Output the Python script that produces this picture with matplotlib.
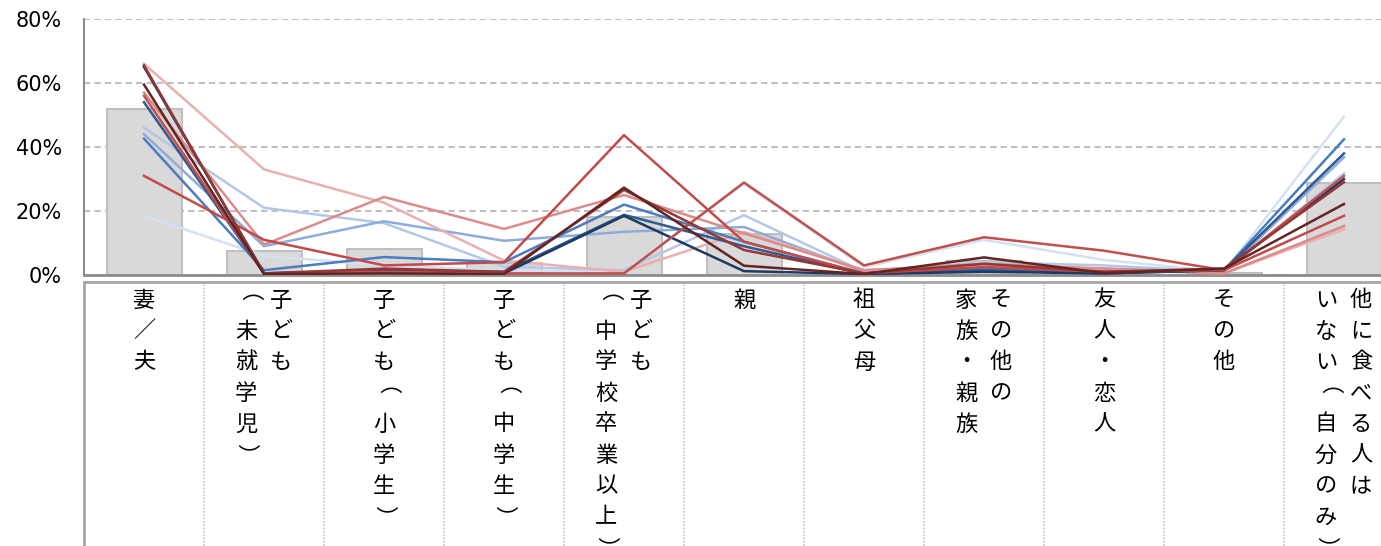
import matplotlib
matplotlib.use("Agg")
import matplotlib.pyplot as plt
import matplotlib.transforms as mtransforms
from matplotlib.lines import Line2D
import numpy as np

# categories and the way each label wraps into vertical columns (right column first)
categories = ['妻／夫', '子ども（未就学児）', '子ども（小学生）', '子ども（中学生）',
              '子ども（中学校卒業以上）', '親', '祖父母', 'その他の家族・親族',
              '友人・恋人', 'その他', '他に食べる人はいない（自分のみ）']
label_cols = [['妻／夫'], ['子ども', '（未就学児）'], ['子ども（小学生）'], ['子ども（中学生）'],
              ['子ども', '（中学校卒業以上）'], ['親'], ['祖父母'], ['その他の', '家族・親族'],
              ['友人・恋人'], ['その他'], ['他に食べる人は', 'いない（自分のみ）']]

# overall (gray bars), %
total = [52.0, 7.6, 8.2, 3.8, 18.2, 12.7, 0.3, 4.5, 0.6, 0.7, 28.8]

# blue group, light -> dark
b1 = [18.5, 6.0, 3.0, 1.5, 1.0, 28.5, 2.5, 11.0, 4.7, 1.0, 49.5]
b2 = [46.0, 21.0, 16.2, 2.6, 1.5, 18.7, 1.0, 4.0, 3.0, 1.0, 31.8]
b3 = [44.0, 9.0, 16.8, 10.7, 13.5, 15.0, 1.0, 3.0, 2.0, 1.0, 36.8]
b4 = [42.6, 1.5, 5.6, 4.0, 22.0, 10.4, 0.5, 2.0, 1.0, 1.5, 42.4]
b5 = [54.0, 0.5, 1.5, 1.0, 18.8, 9.0, 0.3, 1.5, 0.5, 1.5, 38.0]
b6 = [65.0, 0.5, 1.0, 0.5, 18.5, 1.2, 0.3, 1.0, 0.5, 1.5, 30.0]
# red group, light -> dark
r1 = [66.0, 33.0, 22.6, 4.5, 1.0, 13.5, 1.5, 3.0, 1.5, 0.5, 14.3]
r2 = [57.0, 9.5, 24.4, 14.4, 25.0, 13.0, 1.5, 3.5, 2.0, 0.5, 15.3]
r3 = [56.0, 0.5, 1.0, 0.5, 0.5, 28.9, 3.0, 11.8, 7.6, 1.5, 31.0]
r4 = [31.0, 11.0, 3.0, 4.0, 43.7, 10.4, 0.5, 2.5, 1.0, 1.5, 18.5]
r5 = [65.5, 0.5, 2.0, 1.0, 26.6, 7.8, 0.5, 3.5, 1.0, 2.0, 29.0]
r6 = [59.5, 0.3, 0.5, 0.3, 27.3, 2.9, 0.3, 5.5, 0.6, 2.0, 22.2]

series = [(b1, '#d5e0f1'), (b2, '#b4c8e6'), (b3, '#8eacd9'), (r1, '#e8b0af'),
          (r2, '#d98c8a'), (b4, '#4a7cc0'), (b5, '#2f5a92'), (b6, '#1d3a60'),
          (r3, '#c0504d'), (r4, '#c24a47'), (r5, '#953735'), (r6, '#632523')]

W, H = 1381, 546
fig = plt.figure(figsize=(W / 100, H / 100), dpi=100)
ax = fig.add_axes([84 / W, 1 - 275 / H, 11 * 120 / W, 256 / H])

x = np.arange(len(categories))
ax.bar(x, total, width=0.625, color='#d9d9d9', edgecolor='#bfbfbf', linewidth=1.5, zorder=2)
for vals, col in series:
    ax.plot(x, vals, color=col, lw=1.8, zorder=3)

ax.set_xlim(-0.5, len(categories) - 0.5)
ax.set_ylim(0, 80)
ax.set_yticks([0, 20, 40, 60, 80])
ax.set_yticklabels(['0%', '20%', '40%', '60%', '80%'], fontsize=15, family='DejaVu Sans')
ax.set_xticks([])
ax.tick_params(axis='y', length=0, pad=16)
ax.yaxis.grid(True, linestyle=(0, (3, 2)), color='#bfbfbf', lw=1.5)
ax.set_axisbelow(True)
for s in ['top', 'right']:
    ax.spines[s].set_visible(False)
ax.spines['left'].set_color('#8c8c8c')
ax.spines['left'].set_linewidth(1.5)
ax.spines['bottom'].set_color('#8c8c8c')
ax.spines['bottom'].set_linewidth(2)

# label table below the axis
tr = mtransforms.blended_transform_factory(ax.transData, fig.transFigure)
y_top = 1 - 282 / H
fig.add_artist(Line2D([84 / W, 1], [y_top, y_top], color='#a6a6a6', lw=2))
fig.add_artist(Line2D([84 / W, 84 / W], [0, y_top], color='#a6a6a6', lw=2))
for k in range(1, len(categories)):
    ax.add_artist(Line2D([k - 0.5, k - 0.5], [0, y_top], transform=tr, color='#c8c8c8',
                         lw=1.2, linestyle=(0, (1, 1)), clip_on=False))

pitch = 31 / H
y0 = 1 - 300 / H
# vertical-writing parentheses are the normal ones turned a quarter, nudged back onto the column
paren_shift = {'（': (-11, -4), '）': (0, 0)}
for i, cols in enumerate(label_cols):
    if len(cols) == 1:
        offs = [0.0]
    else:
        offs = [0.142, -0.15]
    for col, dx in zip(cols, offs):
        for j, ch in enumerate(col):
            rot, sx, sy = 0, 0, 0
            if ch in paren_shift:
                rot = -90
                sx, sy = paren_shift[ch]
            ax.text(i + dx + sx / 120, y0 - j * pitch + sy / H, ch, transform=tr,
                    ha='center', va='center', rotation=rot, fontsize=16,
                    family=['Noto Sans CJK JP', 'DejaVu Sans'], color='#000000', clip_on=False)

fig.savefig('out.png', dpi=100)
